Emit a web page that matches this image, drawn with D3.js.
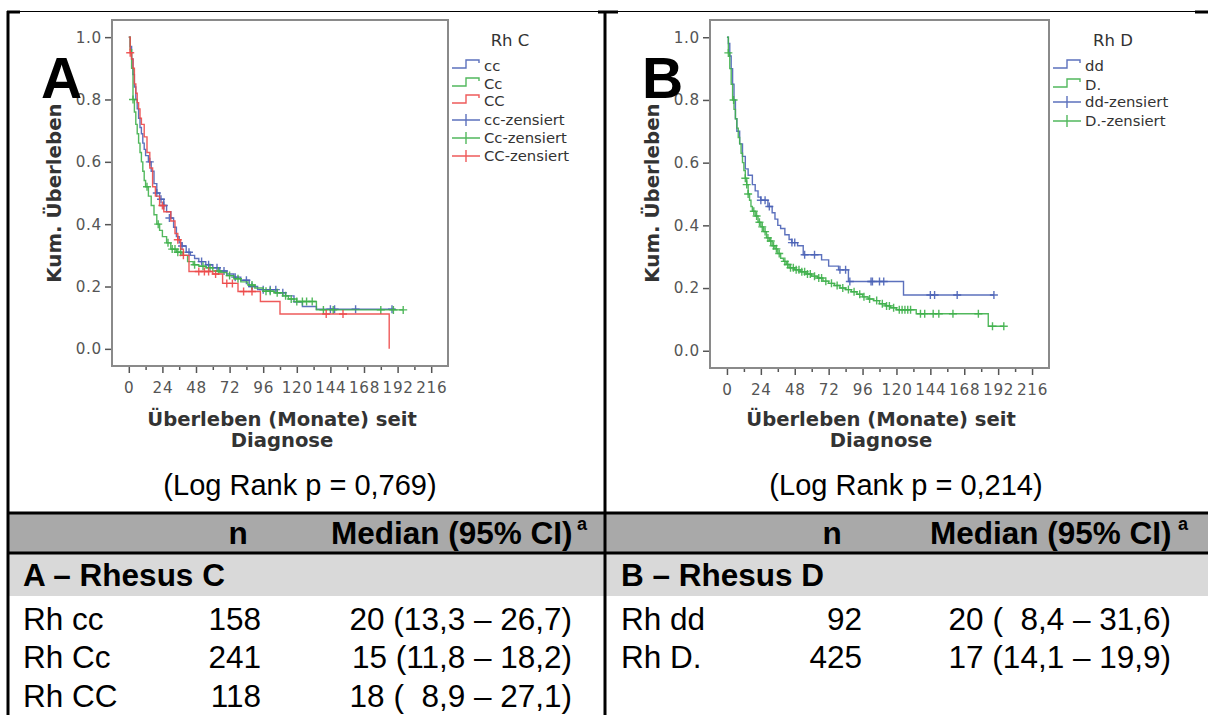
<!DOCTYPE html>
<html><head><meta charset="utf-8">
<script src="https://cdn.jsdelivr.net/npm/d3@7"></script>
<style>body{margin:0;background:#fff} text{white-space:pre}</style>
</head><body><svg id="c" width="1208" height="715"></svg>
<script>
// ---------- DATA ----------
const xTicks = [0,24,48,72,96,120,144,168,192,216];
const xMinor = [12,36,60,84,108,132,156,180,204];
const yTicks = [0.0,0.2,0.4,0.6,0.8,1.0];

// Panel A: Rh C
const stepsCc_lower = [[0,1.0],[1,0.97],[2,0.93],[3,0.88],[4,0.84],[5,0.80],[6,0.77],[7,0.74],[8,0.71],[9,0.69],[10,0.66],[11,0.64],[12,0.62],[14,0.60],[16,0.57],[18,0.53],[20,0.50],[22,0.48],[25,0.46],[27,0.44],[30,0.42],[32,0.39],[34,0.36],[36,0.34],[38,0.33],[41,0.31],[44,0.30],[47,0.29],[50,0.28],[55,0.27],[60,0.26],[65,0.25],[70,0.24],[75,0.23],[80,0.22],[86,0.20],[92,0.19],[106,0.18],[112,0.17],[118,0.15],[124,0.136],[134,0.127],[190,0.127]];
const censCc_lower = [[15,0.60],[20,0.50],[23,0.48],[25,0.46],[29,0.42],[38,0.33],[43,0.31],[52,0.28],[57,0.27],[63,0.26],[68,0.25],[76,0.23],[84,0.22],[88,0.20],[96,0.19],[101,0.19],[105,0.19],[110,0.18],[144,0.127],[147,0.127],[162,0.127],[188,0.127]];

const stepsCc_mixed = [[0,1.0],[1,0.96],[2,0.90],[3,0.80],[4,0.76],[5,0.72],[6,0.69],[7,0.66],[8,0.63],[9,0.60],[10,0.57],[11,0.54],[12,0.52],[14,0.49],[16,0.46],[18,0.43],[20,0.40],[22,0.38],[24,0.36],[27,0.34],[30,0.32],[34,0.31],[38,0.30],[42,0.28],[46,0.27],[50,0.265],[55,0.26],[60,0.25],[65,0.245],[70,0.235],[75,0.225],[80,0.215],[85,0.205],[90,0.195],[96,0.185],[104,0.18],[110,0.17],[114,0.16],[120,0.152],[134,0.125],[196,0.125]];
const censCc_mixed = [[3,0.80],[13,0.52],[21,0.40],[28,0.34],[31,0.32],[33,0.32],[35,0.31],[37,0.31],[47,0.27],[53,0.265],[58,0.26],[64,0.25],[72,0.235],[78,0.225],[88,0.205],[98,0.185],[101,0.185],[106,0.18],[112,0.17],[116,0.16],[120,0.152],[124,0.152],[127,0.152],[131,0.152],[139,0.125],[146,0.125],[180,0.125],[189,0.125],[196,0.125]];

const stepsCC = [[0,1.0],[1,0.95],[2,0.93],[3,0.90],[4,0.85],[5,0.82],[6,0.79],[7,0.77],[8,0.74],[9,0.72],[11,0.68],[13,0.63],[15,0.58],[17,0.52],[19,0.49],[22,0.46],[25,0.44],[30,0.41],[33,0.37],[35,0.35],[37,0.32],[39,0.30],[43,0.248],[60,0.24],[67,0.21],[78,0.184],[94,0.152],[108,0.112],[186,0.0]];
const censCC = [[1,0.95],[24,0.46],[35,0.35],[39,0.30],[50,0.248],[54,0.248],[57,0.248],[62,0.24],[70,0.21],[74,0.21],[82,0.184],[88,0.184],[141,0.112],[153,0.112]];

// Panel B: Rh D
const stepsDd = [[0,1.0],[1,0.98],[2,0.94],[3,0.90],[4,0.85],[5,0.80],[6,0.74],[7,0.70],[9,0.66],[11,0.62],[13,0.58],[15,0.56],[18,0.53],[20,0.51],[22,0.49],[24,0.48],[29,0.46],[32,0.44],[34,0.42],[36,0.40],[38,0.39],[41,0.37],[44,0.355],[46,0.345],[50,0.335],[54,0.306],[67,0.29],[72,0.27],[79,0.258],[86,0.221],[125,0.178],[189,0.178]];
const censDd = [[24,0.48],[27,0.48],[30,0.46],[46,0.345],[48,0.345],[55,0.306],[62,0.306],[80,0.258],[84,0.258],[87,0.221],[102,0.221],[103,0.221],[108,0.221],[111,0.221],[144,0.178],[147,0.178],[163,0.178],[189,0.178]];

const stepsDpos = [[0,1.0],[1,0.95],[2,0.90],[3,0.85],[4,0.80],[5,0.77],[6,0.74],[7,0.71],[8,0.68],[9,0.66],[10,0.63],[11,0.60],[12,0.575],[13,0.55],[14,0.53],[15,0.50],[16,0.48],[17,0.46],[18,0.445],[20,0.43],[22,0.41],[24,0.395],[26,0.38],[28,0.36],[30,0.35],[32,0.335],[34,0.325],[36,0.31],[38,0.295],[40,0.285],[42,0.275],[44,0.265],[48,0.258],[52,0.252],[56,0.245],[60,0.238],[64,0.232],[68,0.222],[72,0.215],[76,0.208],[80,0.200],[84,0.195],[88,0.188],[92,0.180],[96,0.172],[100,0.165],[104,0.160],[108,0.150],[112,0.143],[116,0.137],[120,0.131],[134,0.118],[185,0.078],[196,0.078]];
const censDpos = [[1,0.95],[4.7,0.80],[13,0.55],[14,0.53],[15,0.50],[19,0.445],[21,0.43],[23,0.41],[25,0.395],[27,0.38],[29,0.36],[31,0.35],[33,0.335],[35,0.325],[37,0.31],[41,0.285],[43,0.275],[45,0.265],[47,0.265],[49,0.258],[51,0.258],[53,0.252],[55,0.252],[57,0.245],[59,0.245],[62,0.238],[65,0.232],[67,0.232],[70,0.222],[74,0.215],[78,0.208],[82,0.200],[86,0.195],[90,0.188],[94,0.180],[97,0.172],[101,0.165],[106,0.160],[110,0.150],[113,0.143],[115,0.143],[118,0.137],[122,0.131],[124,0.131],[126,0.131],[128,0.131],[130,0.131],[137,0.118],[140,0.118],[146,0.118],[150,0.118],[160,0.118],[178,0.118],[188,0.078],[196,0.078]];

const legendA = ["cc","Cc","CC","cc-zensiert","Cc-zensiert","CC-zensiert"];
const legendB = ["dd","D.","dd-zensiert","D.-zensiert"];
const logRank = ["(Log Rank p = 0,769)","(Log Rank p = 0,214)"];
const headN = "n";
const headMedian = "Median (95% CI)";
const groupTitles = ["A – Rhesus C","B – Rhesus D"];
const rowsA = [["Rh cc","158","20 (13,3 – 26,7)"],["Rh Cc","241","15 (11,8 – 18,2)"],["Rh CC","118","18 (  8,9 – 27,1)"]];
const rowsB = [["Rh dd","92","20 (  8,4 – 31,6)"],["Rh D.","425","17 (14,1 – 19,9)"]];

// ---------- DRAW ----------
const BLUE="#4a62b6", GREEN="#3fb04b", RED="#ec4848";
const svg = d3.select("#c");
svg.append("rect").attr("width",1208).attr("height",715).attr("fill","#fff");
const FONT = "'DejaVu Sans', sans-serif";
const TFONT = "'Liberation Sans', Arial, sans-serif";

function panel(cfg){
  const g = svg.append("g");
  const x = d3.scaleLinear([-12,228],[cfg.x0,cfg.x1]);
  const y = d3.scaleLinear([-0.055,1.055],[cfg.y1,cfg.y0]);
  const ax = g.append("g").attr("transform",`translate(0,${cfg.y1})`)
    .call(d3.axisBottom(x).tickValues(xTicks).tickSize(7).tickPadding(9));
  const axm = g.append("g").attr("transform",`translate(0,${cfg.y1})`)
    .call(d3.axisBottom(x).tickValues(xMinor).tickSize(4).tickFormat(""));
  const ay = g.append("g").attr("transform",`translate(${cfg.x0},0)`)
    .call(d3.axisLeft(y).tickValues(yTicks).tickSize(7).tickPadding(3).tickFormat(d3.format(".1f")));
  [ax,axm,ay].forEach(a=>{
    a.select(".domain").remove();
    a.selectAll("line").attr("stroke","#555").attr("stroke-width",1.5);
    a.selectAll("text").attr("font-family",FONT).attr("font-size",15.2).attr("fill","#555").attr("letter-spacing",0.7);
  });
  g.append("rect").attr("x",cfg.x0).attr("y",cfg.y0).attr("width",cfg.x1-cfg.x0).attr("height",cfg.y1-cfg.y0)
    .attr("fill","none").attr("stroke","#8a8a8a").attr("stroke-width",2);
  const line = d3.line().x(d=>x(d[0])).y(d=>y(d[1])).curve(d3.curveStepAfter);
  cfg.curves.forEach(c=>{
    g.append("path").attr("d",line(c.steps)).attr("fill","none").attr("stroke",c.color)
      .attr("stroke-width",1.4).attr("stroke-opacity",0.9);
    g.append("g").selectAll("path").data(c.cens).join("path")
      .attr("d",d=>`M${x(d[0])-4},${y(d[1])}h8M${x(d[0])},${y(d[1])-4}v8`)
      .attr("stroke",c.color).attr("stroke-width",1.4).attr("stroke-opacity",0.9);
  });
  g.append("text").attr("x",cfg.xlabelCx).attr("y",426).attr("text-anchor","middle")
    .attr("font-family",FONT).attr("font-weight","bold").attr("font-size",19.6).attr("fill","#333")
    .text("Überleben (Monate) seit");
  g.append("text").attr("x",cfg.xlabelCx).attr("y",447).attr("text-anchor","middle")
    .attr("font-family",FONT).attr("font-weight","bold").attr("font-size",19.6).attr("fill","#333")
    .text("Diagnose");
  g.append("text").attr("transform",`translate(${cfg.ylabelX},193) rotate(-90)`).attr("text-anchor","middle")
    .attr("font-family",FONT).attr("font-weight","bold").attr("font-size",19.8).attr("fill","#333")
    .text("Kum. Überleben");
  g.append("text").attr("x",cfg.letterX).attr("y",98).attr("font-family",TFONT).attr("font-weight","bold")
    .attr("font-size",57).attr("fill","#000").text(cfg.letter);
  const lx = cfg.x1 + 4;
  g.append("text").attr("x",cfg.legTitleX).attr("y",46).attr("text-anchor","middle")
    .attr("font-family",FONT).attr("font-size",16.5).attr("fill","#333").text(cfg.legTitle);
  cfg.legend.forEach((t,i)=>{
    const cy = cfg.legY[i];
    const col = cfg.legColors[i];
    if (i < cfg.nStep) {
      g.append("path").attr("d",`M${lx},${cy+2}H${lx+14}V${cy-6}H${lx+27}V${cy-3}`)
        .attr("fill","none").attr("stroke",col).attr("stroke-width",1.4).attr("stroke-opacity",0.9);
    } else {
      g.append("path").attr("d",`M${lx},${cy}H${lx+28}M${lx+14},${cy-6}V${cy+6}`)
        .attr("fill","none").attr("stroke",col).attr("stroke-width",1.4).attr("stroke-opacity",0.9);
    }
    g.append("text").attr("x",lx+32).attr("y",cy+5).attr("font-family",FONT).attr("font-size",14.8)
      .attr("fill","#333").text(t);
  });
}

panel({x0:112,x1:448,y0:20,y1:366,xlabelCx:282,ylabelX:61,letter:"A",letterX:41,
  curves:[{steps:stepsCc_lower,cens:censCc_lower,color:BLUE},{steps:stepsCc_mixed,cens:censCc_mixed,color:GREEN},{steps:stepsCC,cens:censCC,color:RED}],
  legTitle:"Rh C",legTitleX:510,legend:legendA,legY:[66,84,101,120,138,156],legColors:[BLUE,GREEN,RED,BLUE,GREEN,RED],nStep:3});
panel({x0:710,x1:1049,y0:20,y1:368,xlabelCx:881,ylabelX:659,letter:"B",letterX:642,
  curves:[{steps:stepsDd,cens:censDd,color:BLUE},{steps:stepsDpos,cens:censDpos,color:GREEN}],
  legTitle:"Rh D",legTitleX:1113,legend:legendB,legY:[66,85,102,121],legColors:[BLUE,GREEN,BLUE,GREEN],nStep:2});

// ---------- TABLE ----------
svg.append("rect").attr("x",8).attr("y",513).attr("width",1200).attr("height",40).attr("fill","#a9a9a9");
svg.append("rect").attr("x",8).attr("y",553).attr("width",1200).attr("height",43).attr("fill","#d9d9d9");
const tt = (x,y,s,opt={}) => svg.append("text").attr("x",x).attr("y",y).attr("font-family",TFONT)
  .attr("font-size",opt.size||31.5).attr("font-weight",opt.bold?"bold":"normal").attr("fill","#000")
  .attr("text-anchor",opt.anchor||"start").text(s);
tt(300,495,logRank[0],{anchor:"middle",size:29});
tt(906,495,logRank[1],{anchor:"middle",size:29});
tt(238,544,headN,{bold:true,anchor:"middle"});
tt(832,544,headN,{bold:true,anchor:"middle"});
tt(331,544,headMedian,{bold:true});
tt(577,530,"a",{bold:true,size:18});
tt(930,544,headMedian,{bold:true});
tt(1178,530,"a",{bold:true,size:18});
tt(23,586,groupTitles[0],{bold:true});
tt(621,586,groupTitles[1],{bold:true});
const rowY=[630,668,707];
rowsA.forEach((r,i)=>{ tt(23,rowY[i],r[0]); tt(261,rowY[i],r[1],{anchor:"end"}); tt(572,rowY[i],r[2],{anchor:"end"}); });
rowsB.forEach((r,i)=>{ tt(621,rowY[i],r[0]); tt(862,rowY[i],r[1],{anchor:"end"}); tt(1171,rowY[i],r[2],{anchor:"end"}); });

// ---------- FRAME LINES ----------
const ln=(x1,y1,x2,y2,w)=>svg.append("line").attr("x1",x1).attr("y1",y1).attr("x2",x2).attr("y2",y2).attr("stroke","#000").attr("stroke-width",w);
ln(8,11.5,1208,11.5,1);
ln(7,12,20,12,3); ln(598,12,618,12,3); ln(1195,12,1208,12,3);
ln(8,11,8,715,3);
ln(605,11,605,715,3);
ln(8,513,1208,513,3);
ln(8,553,1208,553,3);
</script></body></html>
